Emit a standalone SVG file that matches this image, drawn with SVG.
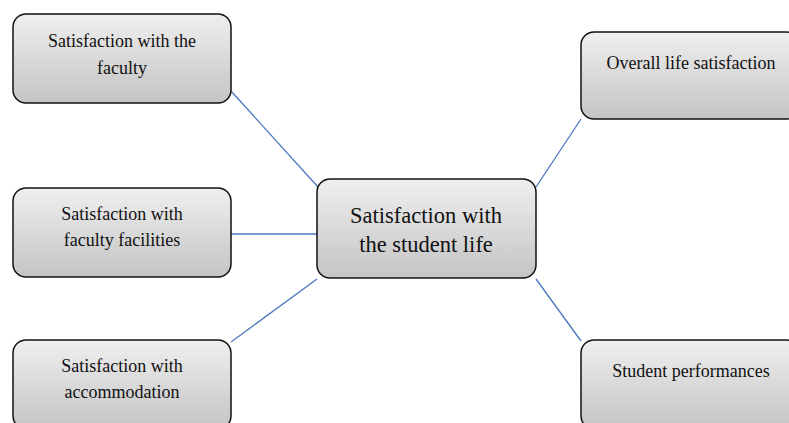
<svg xmlns="http://www.w3.org/2000/svg" width="789" height="423" viewBox="0 0 789 423">
<defs>
<linearGradient id="g" x1="0" y1="0" x2="0" y2="1">
<stop offset="0" stop-color="#efefef"/>
<stop offset="1" stop-color="#c4c4c4"/>
</linearGradient>
<style>
.box{fill:url(#g);stroke:#111;stroke-width:1.5}
.t{font-family:"Liberation Serif","Times New Roman",serif;font-size:18px;fill:#111;text-anchor:middle}
.tc{font-family:"Liberation Serif","Times New Roman",serif;font-size:22.5px;fill:#111;text-anchor:middle}
.c{stroke:#4a78c0;stroke-width:1.3;fill:none}
</style>
</defs>
<rect width="789" height="423" fill="#fff"/>
<g id="connectors">
<line class="c" x1="231" y1="91" x2="318" y2="187"/>
<line class="c" x1="231" y1="234" x2="317" y2="234"/>
<line class="c" x1="231" y1="342" x2="317" y2="279"/>
<line class="c" x1="536" y1="187" x2="581" y2="119"/>
<line class="c" x1="536" y1="279" x2="581" y2="341"/>
</g>
<g id="faculty">
<rect class="box" x="13" y="14" width="218" height="89" rx="13"/>
<text class="t" x="122" y="47">Satisfaction with the</text>
<text class="t" x="122" y="74">faculty</text>
</g>
<g id="facilities">
<rect class="box" x="13" y="188" width="218" height="89" rx="13"/>
<text class="t" x="122" y="220">Satisfaction with</text>
<text class="t" x="122" y="246">faculty facilities</text>
</g>
<g id="accommodation">
<rect class="box" x="13" y="340" width="218" height="89" rx="13"/>
<text class="t" x="122" y="372">Satisfaction with</text>
<text class="t" x="122" y="398">accommodation</text>
</g>
<g id="center">
<rect class="box" x="317" y="179" width="219" height="99" rx="13"/>
<text class="tc" x="426" y="223">Satisfaction with</text>
<text class="tc" x="426" y="252">the student life</text>
</g>
<g id="overall">
<rect class="box" x="581" y="32" width="218" height="87" rx="13"/>
<text class="t" x="691" y="69">Overall life satisfaction</text>
</g>
<g id="performances">
<rect class="box" x="581" y="340" width="218" height="89" rx="13"/>
<text class="t" x="691" y="377">Student performances</text>
</g>
</svg>
